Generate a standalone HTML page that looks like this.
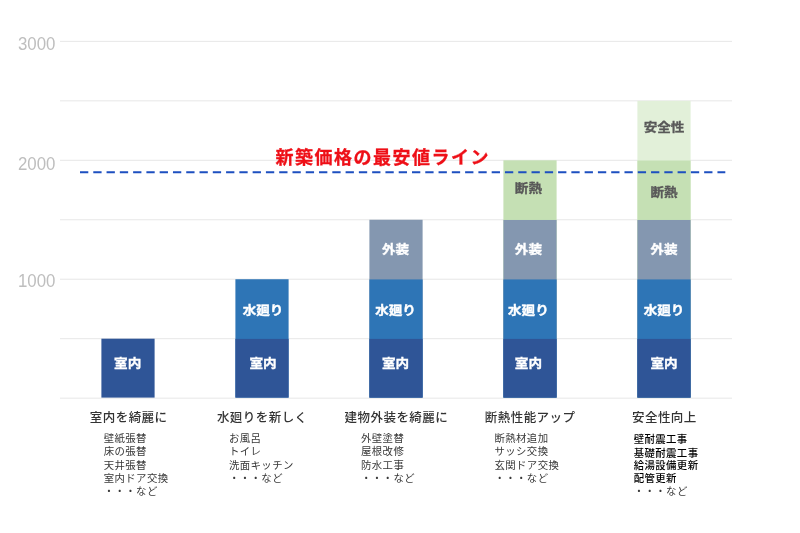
<!DOCTYPE html>
<html lang="ja">
<head>
<meta charset="utf-8">
<title>リフォーム費用と新築価格の比較</title>
<style>
html,body{margin:0;padding:0;background:#fff;}
body{width:800px;height:533px;overflow:hidden;font-family:"Liberation Sans","Noto Sans CJK JP",sans-serif;}
svg{display:block;}
text{font-family:"Liberation Sans","Noto Sans CJK JP",sans-serif;}
.ax{font-size:18.5px;fill:#bebebe;}
.lbl{font-size:12.3px;font-weight:700;fill:#fff;stroke:#fff;stroke-width:0.35px;text-anchor:middle;}
.lbld{font-size:12.3px;font-weight:700;fill:#595959;stroke:#595959;stroke-width:0.3px;text-anchor:middle;}
.red{font-size:18px;font-weight:700;fill:#ee0f17;stroke:#ee0f17;stroke-width:0.3px;}
.cat{font-size:12.5px;fill:#333;font-weight:500;letter-spacing:0.45px;}
.sub{font-size:10.4px;fill:#383838;letter-spacing:0.42px;}
.subb{font-size:10.4px;fill:#000;font-weight:500;letter-spacing:0.4px;}
</style>
</head>
<body>
<svg width="800" height="533" viewBox="0 0 800 533">
<rect x="0" y="0" width="800" height="533" fill="#ffffff"/>

<line x1="60" x2="732" y1="398.15" y2="398.15" stroke="#e7e7e7" stroke-width="1"/>
<line x1="60" x2="732" y1="338.69" y2="338.69" stroke="#e7e7e7" stroke-width="1"/>
<line x1="60" x2="732" y1="279.23" y2="279.23" stroke="#e7e7e7" stroke-width="1"/>
<line x1="60" x2="732" y1="219.77" y2="219.77" stroke="#e7e7e7" stroke-width="1"/>
<line x1="60" x2="732" y1="160.31" y2="160.31" stroke="#e7e7e7" stroke-width="1"/>
<line x1="60" x2="732" y1="100.85" y2="100.85" stroke="#e7e7e7" stroke-width="1"/>
<line x1="60" x2="732" y1="41.39" y2="41.39" stroke="#e7e7e7" stroke-width="1"/>
<text class="ax" x="18" y="287.00" textLength="37.5" lengthAdjust="spacingAndGlyphs">1000</text>
<text class="ax" x="18" y="170.40" textLength="37.5" lengthAdjust="spacingAndGlyphs">2000</text>
<text class="ax" x="18" y="50.40" textLength="37.5" lengthAdjust="spacingAndGlyphs">3000</text>
<rect x="101.4" y="338.69" width="53.2" height="58.91" fill="#2f5597"/>
<text class="lbl" transform="translate(127.65,368.30) scale(1.105,1)">室内</text>
<rect x="235.4" y="279.23" width="53.2" height="118.37" fill="#2e75b6"/>
<rect x="235.4" y="338.89" width="53.2" height="58.71" fill="#2f5597"/>
<text class="lbl" transform="translate(263.00,368.30) scale(1.105,1)">室内</text>
<text class="lbl" transform="translate(263.00,315.00) scale(1.105,1)">水廻り</text>
<rect x="369.4" y="219.77" width="53.2" height="177.83" fill="#8497b0"/>
<rect x="369.4" y="279.43" width="53.2" height="118.17" fill="#2e75b6"/>
<rect x="369.4" y="338.89" width="53.2" height="58.71" fill="#2f5597"/>
<text class="lbl" transform="translate(395.50,368.30) scale(1.105,1)">室内</text>
<text class="lbl" transform="translate(395.50,315.00) scale(1.105,1)">水廻り</text>
<text class="lbl" transform="translate(395.50,253.90) scale(1.105,1)">外装</text>
<rect x="503.4" y="160.31" width="53.2" height="237.29" fill="#c5e0b4"/>
<rect x="503.4" y="219.97" width="53.2" height="177.63" fill="#8497b0"/>
<rect x="503.4" y="279.43" width="53.2" height="118.17" fill="#2e75b6"/>
<rect x="503.4" y="338.89" width="53.2" height="58.71" fill="#2f5597"/>
<text class="lbl" transform="translate(528.40,368.30) scale(1.105,1)">室内</text>
<text class="lbl" transform="translate(528.40,315.00) scale(1.105,1)">水廻り</text>
<text class="lbl" transform="translate(528.40,253.90) scale(1.105,1)">外装</text>
<text class="lbld" transform="translate(528.40,193.20) scale(1.105,1)">断熱</text>
<rect x="637.4" y="100.85" width="53.2" height="296.75" fill="#e2f0d9"/>
<rect x="637.4" y="160.51" width="53.2" height="237.09" fill="#c5e0b4"/>
<rect x="637.4" y="219.97" width="53.2" height="177.63" fill="#8497b0"/>
<rect x="637.4" y="279.43" width="53.2" height="118.17" fill="#2e75b6"/>
<rect x="637.4" y="338.89" width="53.2" height="58.71" fill="#2f5597"/>
<text class="lbl" transform="translate(664.00,368.30) scale(1.105,1)">室内</text>
<text class="lbl" transform="translate(664.00,315.00) scale(1.105,1)">水廻り</text>
<text class="lbl" transform="translate(664.00,253.90) scale(1.105,1)">外装</text>
<text class="lbld" transform="translate(664.00,196.70) scale(1.105,1)">断熱</text>
<text class="lbld" transform="translate(664.00,131.70) scale(1.105,1)">安全性</text>
<line x1="80" x2="725.3" y1="172.2" y2="172.2" stroke="#1d4fc0" stroke-width="1.9" stroke-dasharray="8.3 4.98"/>
<text class="red" x="275.6" y="163.8" textLength="213" lengthAdjust="spacing">新築価格の最安値ライン</text>
<text class="cat" x="89.8" y="422.3">室内を綺麗に</text>
<text class="cat" x="216.9" y="422.3">水廻りを新しく</text>
<text class="cat" x="344.6" y="422.3">建物外装を綺麗に</text>
<text class="cat" x="484.8" y="422.3">断熱性能アップ</text>
<text class="cat" x="632" y="422.3">安全性向上</text>
<text class="sub" x="103.7" y="442.40">壁紙張替</text>
<text class="sub" x="103.7" y="455.30">床の張替</text>
<text class="sub" x="103.7" y="468.50">天井張替</text>
<text class="sub" x="103.7" y="481.60">室内ドア交換</text>
<text class="sub" x="103.7" y="494.70">・・・など</text>
<text class="sub" x="228.9" y="442.40">お風呂</text>
<text class="sub" x="228.9" y="455.30">トイレ</text>
<text class="sub" x="228.9" y="468.50">洗面キッチン</text>
<text class="sub" x="228.9" y="481.60">・・・など</text>
<text class="sub" x="361.0" y="442.40">外壁塗替</text>
<text class="sub" x="361.0" y="455.30">屋根改修</text>
<text class="sub" x="361.0" y="468.50">防水工事</text>
<text class="sub" x="361.0" y="481.60">・・・など</text>
<text class="sub" x="494.4" y="442.40">断熱材追加</text>
<text class="sub" x="494.4" y="455.30">サッシ交換</text>
<text class="sub" x="494.4" y="468.50">玄関ドア交換</text>
<text class="sub" x="494.4" y="481.60">・・・など</text>
<text class="subb" x="633.7" y="443.10">壁耐震工事</text>
<text class="subb" x="633.7" y="456.80">基礎耐震工事</text>
<text class="subb" x="633.7" y="468.60">給湯設備更新</text>
<text class="subb" x="633.7" y="482.20">配管更新</text>
<text class="sub" x="633.7" y="494.70">・・・など</text>
</svg>
</body>
</html>
